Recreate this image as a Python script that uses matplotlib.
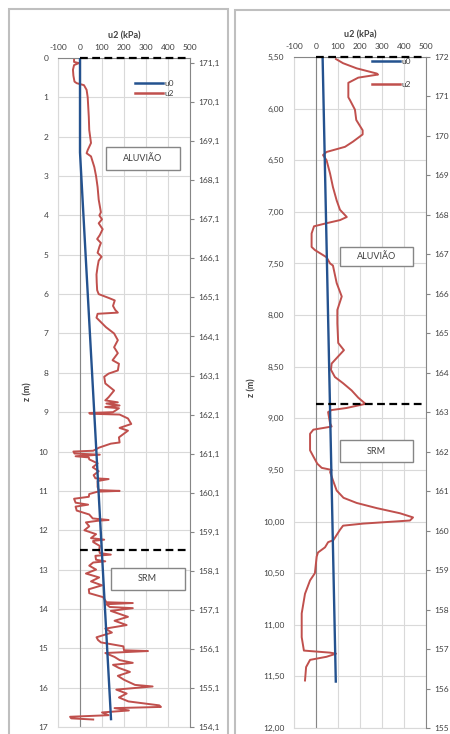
import matplotlib
matplotlib.use('agg')
import matplotlib.pyplot as plt
from matplotlib.patches import Rectangle
import numpy as np

plt.rcParams['font.family'] = ['Lato', 'DejaVu Sans']
plt.rcParams['axes.unicode_minus'] = False

# --- perfil 1 (0 - 17 m) ---
z_u2_1 = [0.00, 0.10, 0.13, 0.18, 0.30, 0.45, 0.60, 0.64, 0.69, 0.81,
          1.00, 1.50, 1.83, 2.16, 2.34, 2.42, 2.50, 2.77, 3.00, 3.28,
          3.60, 3.92, 4.00, 4.10, 4.20, 4.35, 4.50, 4.60, 4.70, 4.80,
          4.95, 5.05, 5.15, 5.30, 5.50, 5.70, 5.90, 6.00, 6.10, 6.16,
          6.30, 6.40, 6.47, 6.50, 6.60,
          6.84, 7.00, 7.17, 7.35, 7.50, 7.68, 7.77, 7.94, 8.02, 8.10,
          8.27, 8.45, 8.62, 8.70, 8.75, 8.78, 8.83, 8.87, 8.90, 9.00,
          9.02, 9.04, 9.06, 9.16, 9.30, 9.40, 9.47, 9.64, 9.77, 9.80,
          9.90, 9.98, 10.00, 10.05, 10.08, 10.12, 10.15,
          10.20, 10.30, 10.40, 10.50, 10.60, 10.68, 10.70, 10.75, 10.90, 10.98,
          11.00, 11.02, 11.08, 11.15, 11.20, 11.30, 11.35, 11.40, 11.50, 11.60,
          11.70, 11.74, 11.76, 11.80, 11.90, 12.00, 12.10, 12.20, 12.24, 12.27,
          12.30, 12.40, 12.50, 12.58, 12.62, 12.65, 12.75, 12.79, 12.82, 12.90,
          13.00, 13.10, 13.20, 13.30, 13.40, 13.50, 13.60,
          13.70, 13.83, 13.85, 13.88, 13.95, 13.98, 14.05, 14.20, 14.30, 14.41,
          14.50, 14.60, 14.72, 14.79, 14.85, 14.95, 15.05, 15.07, 15.12, 15.22,
          15.30, 15.37, 15.42, 15.50, 15.60, 15.70, 15.80, 15.93, 15.97, 16.05,
          16.15, 16.25, 16.35, 16.45, 16.49, 16.52, 16.58, 16.63, 16.70, 16.74,
          16.78, 16.81]
u2_1 = [-27, -27, -5, -27, -32, -30, -25, -15, 18, 30,
        35, 40, 42, 50, 35, 30, 50, 65, 73, 80,
        85, 95, 88, 100, 85, 103, 90, 78, 95, 88,
        80, 98, 85, 80, 75, 76, 78, 85, 132, 158,
        150, 160, 172, 80, 75,
        118, 155, 172, 155, 172, 148, 177, 172, 130, 110,
        115, 155, 130, 115, 172, 120, 180, 115, 177, 150,
        42, 45, 180, 218, 233, 180, 218, 177, 180, 140,
        87, 60, -30, -25, 90, -20, 40,
        42, 80, 58, 85, 62, 70, 130, 80, 80, 85,
        180, 80, 42, 40, -27, -20, 37, -20, -15, 42,
        58, 130, 80, 27, 42, 20, 73, 50, 110, 60,
        60, 90, 87, 90, 140, 70, 73, 115, 60, 42,
        73, 27, 87, 50, 100, 40, 42,
        105, 120, 240, 120, 135, 240, 140, 218, 157, 212,
        115, 145, 75, 82, 95, 197, 200, 309, 115, 157,
        180, 240, 150, 177, 227, 172, 200, 250, 330, 165,
        212, 177, 220, 360, 368, 157, 222, 100, 130, -45,
        -40, 60]
z_u0_1 = [0.0, 2.4, 16.8]
u0_1 = [0, 0, 141]
cotas_1 = [171.1, 170.1, 169.1, 168.1, 167.1, 166.1, 165.1, 164.1, 163.1,
           162.1, 161.1, 160.1, 159.1, 158.1, 157.1, 156.1, 155.1, 154.1]
limites_1 = [0.0, 12.5]

# --- perfil 2 (5,5 - 12 m) ---
z_u2_2 = [5.52, 5.56, 5.61, 5.66, 5.67, 5.70, 5.75, 5.89, 5.92, 6.01,
          6.11, 6.21, 6.25, 6.32, 6.37, 6.42, 6.45, 6.50, 6.63, 6.76,
          6.89, 6.98, 7.05, 7.08, 7.11, 7.14, 7.21, 7.34, 7.37, 7.44,
          7.50, 7.52, 7.69, 7.82, 7.95, 8.08, 8.27, 8.34, 8.40, 8.47,
          8.53, 8.60, 8.66, 8.73, 8.80, 8.86, 8.90, 8.92, 8.94, 9.05,
          9.08, 9.11, 9.15, 9.31, 9.37, 9.44, 9.48, 9.50, 9.52, 9.60,
          9.70, 9.77, 9.82, 9.87, 9.92, 9.96, 9.99, 10.02, 10.04, 10.08,
          10.13, 10.18, 10.20, 10.25, 10.30, 10.34, 10.50, 10.57, 10.70, 10.89,
          11.12, 11.25, 11.27, 11.28, 11.31, 11.34, 11.41, 11.54]
u2_2 = [91, 123, 185, 276, 282, 192, 147, 147, 155, 177,
        183, 212, 212, 168, 132, 48, 32, 48, 64, 77,
        94, 109, 140, 109, 48, -9, -20, -20, -5, 48,
        64, 77, 94, 117, 97, 97, 101, 127, 101, 71,
        68, 86, 123, 162, 192, 225, 139, 71, 55, 64,
        71, -12, -27, -27, -12, 6, 26, 71, 64, 77,
        94, 125, 185, 276, 382, 441, 427, 214, 123, 109,
        94, 79, 55, 41, 9, 3, -5, -27, -50, -65,
        -65, -55, 64, 91, 48, -27, -45, -50]
z_u0_2 = [5.5, 11.55]
u0_2 = [30, 90]
cotas_2 = [172, 171, 170, 169, 168, 167, 166, 165, 164, 163,
           162, 161, 160, 159, 158, 157, 156, 155]
limites_2 = [5.5, 8.86]

x_ticks = [-100, 0, 100, 200, 300, 400, 500]

AZUL = '#24528f'
VERMELHO = '#c0504d'
CINZA = '#868686'
GRID = '#d9d9d9'
TXT = '#404040'

fig = plt.figure(figsize=(4.5, 7.34), dpi=100)
W, H = 450, 734

# molduras dos dois gráficos
fig.patches.append(Rectangle((9 / W, -0.05), 219 / W, 1.05 - 9 / H,
                             transform=fig.transFigure, fill=False,
                             ec='#bfbfbf', lw=1.5))
fig.patches.append(Rectangle((235 / W, -0.05), 0.6, 1.05 - 10 / H,
                             transform=fig.transFigure, fill=False,
                             ec='#bfbfbf', lw=1.5))


def painel(rect, z_u2, u2, z_u0, u0, ylim, yticks, yfmt, cotas, cfmt, clim,
           limites, caixas, leg_xy, leg_sp):
    ax = fig.add_axes(rect)
    ax.set_xlim(-100, 500)
    ax.set_ylim(*ylim)
    ax.set_xticks(x_ticks)
    ax.set_yticks(yticks)
    ax.set_yticklabels([yfmt(v) for v in yticks])
    ax.xaxis.tick_top()
    ax.xaxis.set_label_position('top')
    ax.set_xlabel('u2 (kPa)', fontsize=6.5, fontweight='bold', color=TXT,
                  labelpad=4)
    ax.tick_params(axis='x', length=0, pad=5, labelsize=6, colors=TXT)
    ax.tick_params(axis='y', length=0, pad=7, labelsize=6, colors=TXT)
    ax.grid(True, color=GRID, lw=0.8)
    ax.set_axisbelow(True)
    for s in ('left', 'bottom'):
        ax.spines[s].set_color(GRID)
    ax.spines['top'].set_color(CINZA)
    ax.spines['right'].set_visible(False)
    ax.axvline(0, color=CINZA, lw=0.8, zorder=1)

    ax.plot(u0, z_u0, color=AZUL, lw=1.7, label='u0', zorder=3)
    ax.plot(u2, z_u2, color=VERMELHO, lw=1.4, label='u2', zorder=2)

    ax.hlines(limites, 0, 500, colors='k', linestyles=(0, (3.5, 2)), lw=1.6,
              clip_on=False, zorder=4)

    for (x0, y0, x1, y1, txt) in caixas:
        ax.add_patch(Rectangle((x0, 1 - y1), x1 - x0, y1 - y0,
                               transform=ax.transAxes, fc='white',
                               ec=CINZA, lw=1.0, zorder=5))
        ax.text((x0 + x1) / 2, 1 - (y0 + y1) / 2, txt, transform=ax.transAxes,
                ha='center', va='center', fontsize=6.5, color=TXT, zorder=6)

    leg = ax.legend(loc='upper left', bbox_to_anchor=leg_xy, frameon=False,
                    fontsize=6, handlelength=3.4, handletextpad=0.15,
                    labelspacing=leg_sp, borderpad=0, borderaxespad=0,
                    labelcolor=TXT)
    for ln in leg.get_lines():
        ln.set_linewidth(1.8)

    ax2 = ax.twinx()
    ax2.set_ylim(*clim)
    ax2.set_yticks(cotas)
    ax2.set_yticklabels([cfmt(c) for c in cotas])
    ax2.tick_params(axis='y', direction='out', length=3, width=0.8,
                    color=CINZA, pad=3, labelsize=6, labelcolor=TXT)
    for s in ('left', 'top', 'bottom'):
        ax2.spines[s].set_visible(False)
    ax2.spines['right'].set_color(CINZA)
    return ax


painel([58 / W, 1 - 727 / H, 132 / W, 669 / H],
       z_u2_1, u2_1, z_u0_1, u0_1, (17, 0), list(range(0, 18)),
       lambda v: '%d' % v, cotas_1,
       lambda c: ('%.1f' % c).replace('.', ','), (154.1, 171.23), limites_1,
       [(0.364, 0.133, 0.924, 0.167, 'ALUVIÃO'),
        (0.40, 0.762, 0.96, 0.795, 'SRM')],
       (0.583, 0.967), 0.3)

painel([294 / W, 1 - 728 / H, 132 / W, 671 / H],
       z_u2_2, u2_2, z_u0_2, u0_2, (12, 5.5), list(np.arange(5.5, 12.01, 0.5)),
       lambda v: ('%.2f' % v).replace('.', ','), cotas_2,
       lambda c: '%d' % c, (155, 172), limites_2,
       [(0.348, 0.283, 0.90, 0.311, 'ALUVIÃO'),
        (0.348, 0.571, 0.90, 0.604, 'SRM')],
       (0.59, 0.998), 1.9)

fig.text(28 / W, 1 - 392 / H, 'z (m)', rotation=90, ha='center', va='center',
         fontsize=6.5, fontweight='bold', color=TXT)
fig.text(252 / W, 1 - 388 / H, 'z (m)', rotation=90, ha='center', va='center',
         fontsize=6.5, fontweight='bold', color=TXT)

fig.savefig('out.png', dpi=100)
